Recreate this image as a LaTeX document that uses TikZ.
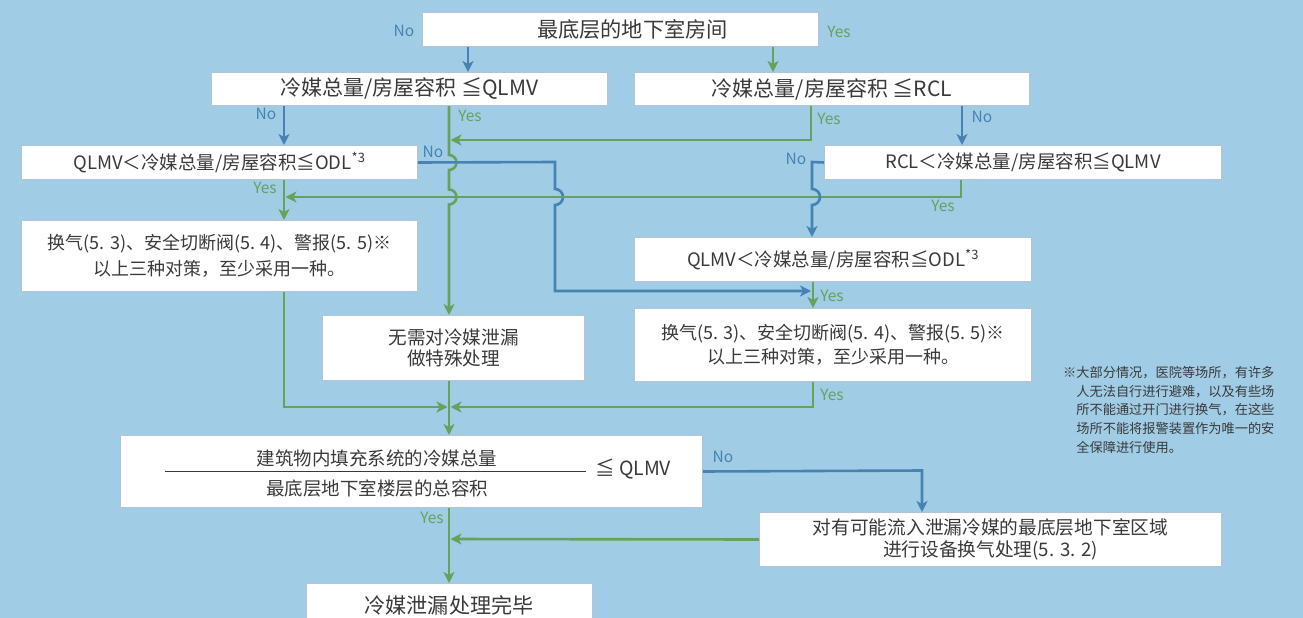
\documentclass[tikz,border=0pt]{standalone}
\usepackage{fontspec}
\setmainfont{Noto Sans CJK SC}
\usetikzlibrary{arrows.meta}
\definecolor{bg}{RGB}{160,204,230}
\definecolor{bl}{RGB}{70,131,178}
\definecolor{gr}{RGB}{104,161,92}
\definecolor{bd}{RGB}{178,196,214}
\definecolor{tx}{RGB}{58,58,58}
\tikzset{
  box/.style={draw=bd, fill=white, line width=1pt, anchor=north west, inner sep=0pt,
    align=center, text=tx, font=\fontsize{18.5}{25}\selectfont},
  bline/.style={draw=bl, line width=2.6pt},
  gline/.style={draw=gr, line width=2.6pt},
  tip/.style={-{Stealth[length=11pt,width=11pt,inset=3pt]}},
  nolab/.style={text=bl, font=\fontsize{15.5}{15.5}\selectfont, inner sep=0pt},
  yeslab/.style={text=gr, font=\fontsize{15.5}{15.5}\selectfont, inner sep=0pt},
}
\begin{document}
\begin{tikzpicture}[x=1pt,y=1pt]
\useasboundingbox (0,0) rectangle (1303,-618);
\fill[bg] (0,0) rectangle (1303,-618);
\clip (0,0) rectangle (1303,-618);

% column coordinates
\coordinate (c284) at (284,0);
\coordinate (c449) at (449,0);
\coordinate (c468) at (468,0);
\coordinate (c773) at (773,0);
\coordinate (c811) at (811,0);
\coordinate (c813) at (813,0);
\coordinate (c812) at (812,0);
\coordinate (c922) at (922,0);
\coordinate (c961) at (961,0);
\coordinate (c962) at (962,0);

% boxes
\node[box, minimum width=396pt, minimum height=34pt, font=\fontsize{21.2}{26}\selectfont] (top) at (422,-12) {\hspace*{24pt}最底层的地下室房间};
\node[box, minimum width=396pt, minimum height=33pt, font=\fontsize{21}{26}\selectfont] (A) at (211,-72) {冷媒总量/房屋容积 ≦QLMV};
\node[box, minimum width=395pt, minimum height=33pt, font=\fontsize{21}{26}\selectfont] (B) at (634,-72) {冷媒总量/房屋容积 ≦RCL};
\node[box, minimum width=396pt, minimum height=34pt] (C) at (21,-145) {QLMV＜冷媒总量/房屋容积≦ODL\textsuperscript{*3}};
\node[box, minimum width=397pt, minimum height=34pt] (D) at (824,-145) {RCL＜冷媒总量/房屋容积≦QLMV};
\node[box, minimum width=396pt, minimum height=71pt, font=\fontsize{18}{25.5}\selectfont] (F) at (21,-220) {换气(5. 3)、安全切断阀(5. 4)、警报(5. 5)※\\以上三种对策，至少采用一种。};
\node[box, minimum width=397pt, minimum height=44pt] (E) at (634,-237) {QLMV＜冷媒总量/房屋容积≦ODL\textsuperscript{*3}};
\node[box, minimum width=262pt, minimum height=65pt, font=\fontsize{18.6}{21.5}\selectfont] (G) at (322,-315) {无需对冷媒泄漏\\做特殊处理};
\node[box, minimum width=397pt, minimum height=73pt, font=\fontsize{18}{24}\selectfont] (H) at (634,-308) {换气(5. 3)、安全切断阀(5. 4)、警报(5. 5)※\\以上三种对策，至少采用一种。};
\node[box, minimum width=582pt, minimum height=72pt] (I) at (120,-435) {};
\node[box, minimum width=462pt, minimum height=54pt, font=\fontsize{18.7}{22.5}\selectfont] (J) at (759,-512) {对有可能流入泄漏冷媒的最底层地下室区域\\进行设备换气处理(5. 3. 2)};
\node[box, minimum width=286pt, minimum height=44pt, anchor=north, font=\fontsize{21.1}{26}\selectfont] (K) at (449,-583) {冷媒泄漏处理完毕};

% fraction inside I
\node[text=tx, font=\fontsize{18.5}{20}\selectfont, inner sep=0pt] (Inum) at (377,-458) {建筑物内填充系统的冷媒总量};
\node[text=tx, font=\fontsize{18.5}{20}\selectfont, inner sep=0pt] (Iden) at (377,-488) {最底层地下室楼层的总容积};
\draw[tx, line width=0.9pt] (165,-471) -- (586,-471);
\node[text=tx, font=\fontsize{19.5}{24}\selectfont, inner sep=0pt, anchor=west] (Irhs) at (595,-469) {≦ QLMV};

% note
\node[text=tx, font=\fontsize{13.2}{18.7}\selectfont, anchor=north west, align=left, inner sep=0pt] (note) at (1063,-366)
 {※大部分情况，医院等场所，有许多\\
  \hspace*{13.2pt}人无法自行进行避难，以及有些场\\
  \hspace*{13.2pt}所不能通过开门进行换气，在这些\\
  \hspace*{13.2pt}场所不能将报警装置作为唯一的安\\
  \hspace*{13.2pt}全保障进行使用。};

% connectors
\draw[bline,tip] (top.south -| c468) -- (A.north -| c468);
\draw[gline,tip] (top.south -| c773) -- (B.north -| c773);
\draw[bline,tip] (A.south -| c284) -- (C.north -| c284);
\draw[bline,tip] (B.south -| c962) -- (D.north -| c962);
% A yes: down to G with two jumps
\draw[gline,tip] (A.south -| c449) -- (449,-155) arc[start angle=90,end angle=-90,radius=7.5]
  -- (449,-189.5) arc[start angle=90,end angle=-90,radius=7.5] -- (G.north -| c449);
% B yes
\draw[gline,tip] (B.south -| c811) -- (811,-140) -- (450.5,-140);
% C no
\draw[bline,tip] (C.east) -- (555,-162) -- (555,-189) arc[start angle=90,end angle=-90,radius=8]
  -- (555,-291) -- (811,-291);
% C yes
\draw[gline,tip] (C.south -| c284) -- (F.north -| c284);
% D yes
\draw[gline,tip] (D.south -| c961) -- (961,-197) -- (285.5,-197);
% D no
\draw[bline,tip] (D.west) -- (812,-162) -- (812,-189) arc[start angle=90,end angle=-90,radius=8]
  -- (E.north -| c812);
% E yes
\draw[gline,tip] (E.south -| c813) -- (H.north -| c813);
% F, G, H to I
\draw[gline,tip] (F.south -| c284) -- (284,-407) -- (447.5,-407);
\draw[gline,tip] (H.south -| c813) -- (813,-407) -- (450.5,-407);
\draw[gline,tip] (G.south -| c449) -- (I.north -| c449);
% I no / yes
\draw[bline,tip] (I.east) -- (922,-470.5) -- (J.north -| c922);
\draw[gline,tip] (I.south -| c449) -- (K.north -| c449);
\draw[gline,tip] (J.west) -- (450.5,-539);

% labels
\node[nolab] (l1) at (404,-31) {No};
\node[yeslab] (l2) at (839,-32) {Yes};
\node[nolab] (l3) at (266,-114) {No};
\node[yeslab] (l4) at (470,-116) {Yes};
\node[yeslab] (l5) at (829,-119) {Yes};
\node[nolab] (l6) at (982,-117) {No};
\node[nolab] (l7) at (433,-152) {No};
\node[yeslab] (l8) at (265,-188) {Yes};
\node[nolab] (l9) at (796,-159) {No};
\node[yeslab] (l10) at (943,-206) {Yes};
\node[yeslab] (l11) at (832,-296) {Yes};
\node[yeslab] (l12) at (832,-395) {Yes};
\node[nolab] (l13) at (723,-457) {No};
\node[yeslab] (l14) at (432,-518) {Yes};
\end{tikzpicture}
\end{document}
